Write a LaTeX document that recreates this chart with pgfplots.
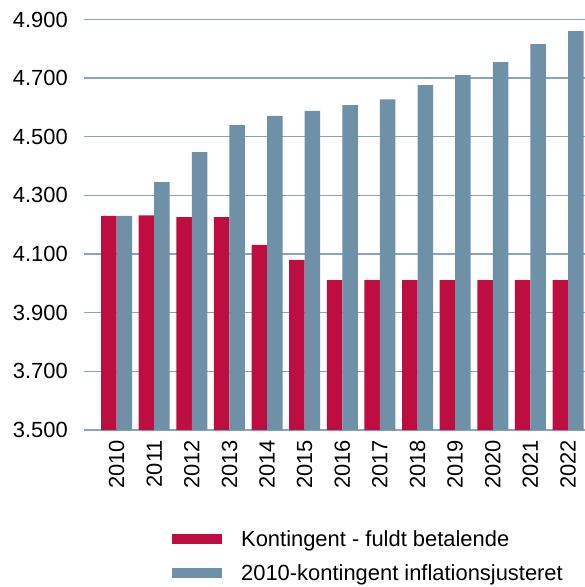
\documentclass[border=0pt]{standalone}
\usepackage{pgfplots}
\pgfplotsset{compat=1.18}
\usepackage{fontspec}
\setmainfont{Liberation Sans}
\definecolor{kred}{HTML}{BE0D40}
\definecolor{kblue}{HTML}{6E91A8}
\definecolor{kgrid}{HTML}{8AA5B8}
\begin{document}
\begin{tikzpicture}
\begin{axis}[
  scale only axis,
  width=501bp, height=410.5bp,
  xmin=-0.866, xmax=12.45,
  ymin=3500, ymax=4900,
  ytick={3500,3700,...,4900},
  xtick={0,...,12},
  xticklabels={2010,2011,2012,2013,2014,2015,2016,2017,2018,2019,2020,2021,2022},
  axis line style={draw=none},
  major tick length=0pt,
  ymajorgrids,
  grid style={kgrid, line width=1.3bp},
  /pgf/number format/assume math mode=true,
  /pgf/number format/1000 sep={.},
  ticklabel style={font=\fontsize{22}{26}\selectfont},
  yticklabel style={anchor=east, inner sep=0pt, xshift=-16bp},
  xticklabel style={rotate=90, anchor=east, inner sep=0pt},
  xticklabel shift=10bp,
  bar width=0.413,
  legend style={draw=none, fill=none, at={(rel axis cs:0.1756,-0.239)}, anchor=north west,
    font=\fontsize{22}{26}\selectfont, row sep=13bp, inner sep=0pt,
    nodes={inner sep=2bp}},
  legend cell align=left,
  legend image code/.code={\fill[#1, draw=none] (0bp,-5bp) rectangle (50bp,5bp); \path[draw=none, fill=none] (0bp,0bp) rectangle (67bp,0.1bp);},
]
\addplot[ybar, fill=kred, draw=none, bar shift=-0.2065] coordinates {
(0,4230) (1,4232) (2,4226) (3,4226) (4,4131) (5,4080) (6,4011) (7,4011) (8,4011) (9,4011) (10,4011) (11,4011) (12,4011)};
\addlegendentry{Kontingent - fuldt betalende}
\addplot[ybar, fill=kblue, draw=none, bar shift=0.2065] coordinates {
(0,4230) (1,4345) (2,4448) (3,4540) (4,4571) (5,4588) (6,4608) (7,4628) (8,4676) (9,4710) (10,4755) (11,4816) (12,4860)};
\addlegendentry{2010-kontingent inflationsjusteret}
\end{axis}
\pgfresetboundingbox
\path (current axis.south west) ++(-84bp,-157bp) rectangle ++(585bp,587bp);
\end{tikzpicture}
\end{document}
